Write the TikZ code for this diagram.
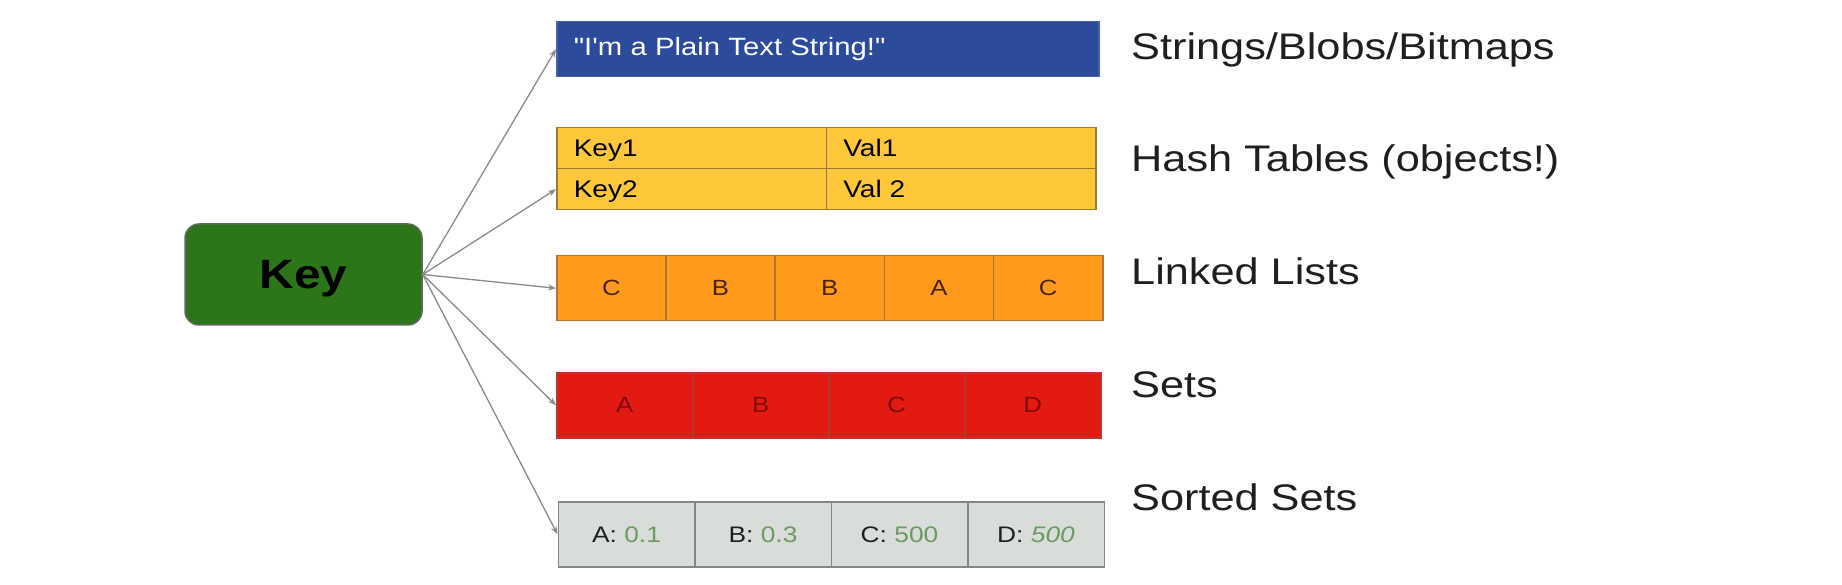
\documentclass[tikz,border=0pt]{standalone}
\usepackage{fontspec}
\setmainfont[Ligatures=TeXOff,FakeStretch=1.17]{Liberation Sans}
\usepackage{tikz}
\usetikzlibrary{arrows.meta}
\definecolor{keygreen}{HTML}{2C7519}
\definecolor{keyborder}{HTML}{5D6B58}
\definecolor{strblue}{HTML}{2C4B9A}
\definecolor{strborder}{HTML}{4562A8}
\definecolor{hashyellow}{HTML}{FFC83A}
\definecolor{hashline}{HTML}{9C7C34}
\definecolor{listorange}{HTML}{FF9A1D}
\definecolor{listline}{HTML}{B2742A}
\definecolor{listtext}{HTML}{4A2408}
\definecolor{setred}{HTML}{E21A11}
\definecolor{setline}{HTML}{B23A2E}
\definecolor{settext}{HTML}{7E0C08}
\definecolor{sortgrey}{HTML}{D8DDDA}
\definecolor{sortline}{HTML}{858585}
\definecolor{numgreen}{HTML}{6A9B60}
\definecolor{arrowgrey}{HTML}{8A8A8A}
\definecolor{labeltext}{HTML}{1F1F1F}
% one row of boxes: name, style, left, top, cell width, height, items
\newcommand*\cellRow[7]{%
    \foreach \txt [count=\i] in {#7} {%
        \node[redis/#2, anchor=north west, minimum width=#5, minimum height=#6]
            (#1\i) at ({#3+(\i-1)*#5},#4) {\txt};
    }
}
\tikzset{redis/.cd,
         key/.style={draw=keyborder,fill=keygreen,line width=1.5,rounded corners=14,
                     minimum width=237,minimum height=101,text depth=0pt,
                     font=\fontsize{41}{41}\selectfont\bfseries,text=black},
         strbox/.style={draw=strborder,fill=strblue,line width=1.5,text=white,
                        text width=508,align=left,inner xsep=17,
                        font=\fontsize{25}{25}\selectfont},
         hashcell/.style={draw=hashline,fill=hashyellow,line width=1.5,text=black,
                          text width=235.5,align=left,inner xsep=17,text depth=0pt,
                          font=\fontsize{24}{24}\selectfont},
         listcell/.style={draw=listline,fill=listorange,line width=1.5,text=listtext,
                          text depth=0pt,font=\fontsize{22}{22}\selectfont},
         setcell/.style={draw=setline,fill=setred,line width=1.5,text=settext,
                         text depth=0pt,font=\fontsize{22}{22}\selectfont},
         sortcell/.style={draw=sortline,fill=sortgrey,line width=1.5,text=labeltext,
                          text depth=0pt,font=\fontsize{22.5}{22.5}\selectfont},
         label/.style={anchor=base west,text=labeltext,inner sep=0,
                       font=\fontsize{37}{37}\selectfont},
         link/.style={draw=arrowgrey,line width=1.3,
                      -{Stealth[length=8,width=6,fill=arrowgrey!80!black]}}}
\begin{document}
\begin{tikzpicture}[x=1pt,y=-1pt]
\useasboundingbox (0,0) rectangle (1842,585);
\node[redis/key] (key) at (303.5,274.5) {Key};
\node[redis/strbox, anchor=north west, minimum width=542, minimum height=55]
    (str) at (556,21) {"I'm a Plain Text String!"};
\cellRow{hashA}{hashcell}{556}{127}{269.5}{41}{Key1,Val1}
\cellRow{hashB}{hashcell}{556}{168}{269.5}{41}{Key2,Val 2}
\cellRow{list}{listcell}{556}{255}{109.2}{65}{C,B,B,A,C}
\cellRow{set}{setcell}{556}{372}{136}{65}{A,B,C,D}
\cellRow{sort}{sortcell}{557.5}{501}{136.5}{65}{%
    A: {\color{numgreen}0.1},B: {\color{numgreen}0.3},%
    C: {\color{numgreen}500},D: {\color{numgreen}\itshape 500}}
% labels on the right
\node[redis/label] (lblStr) at (1131,60) {Strings/Blobs/Bitmaps};
\node[redis/label] (lblHash) at (1131,172) {Hash Tables (objects!)};
\node[redis/label] (lblList) at (1131,285) {Linked Lists};
\node[redis/label] (lblSet) at (1131,397) {Sets};
\node[redis/label] (lblSort) at (1131,510) {Sorted Sets};
% connectors
\foreach \target in {str.west,hashB1.west,list1.west,set1.west,sort1.west}
    \draw[redis/link] (key.east) -- (\target);
\end{tikzpicture}
\end{document}
